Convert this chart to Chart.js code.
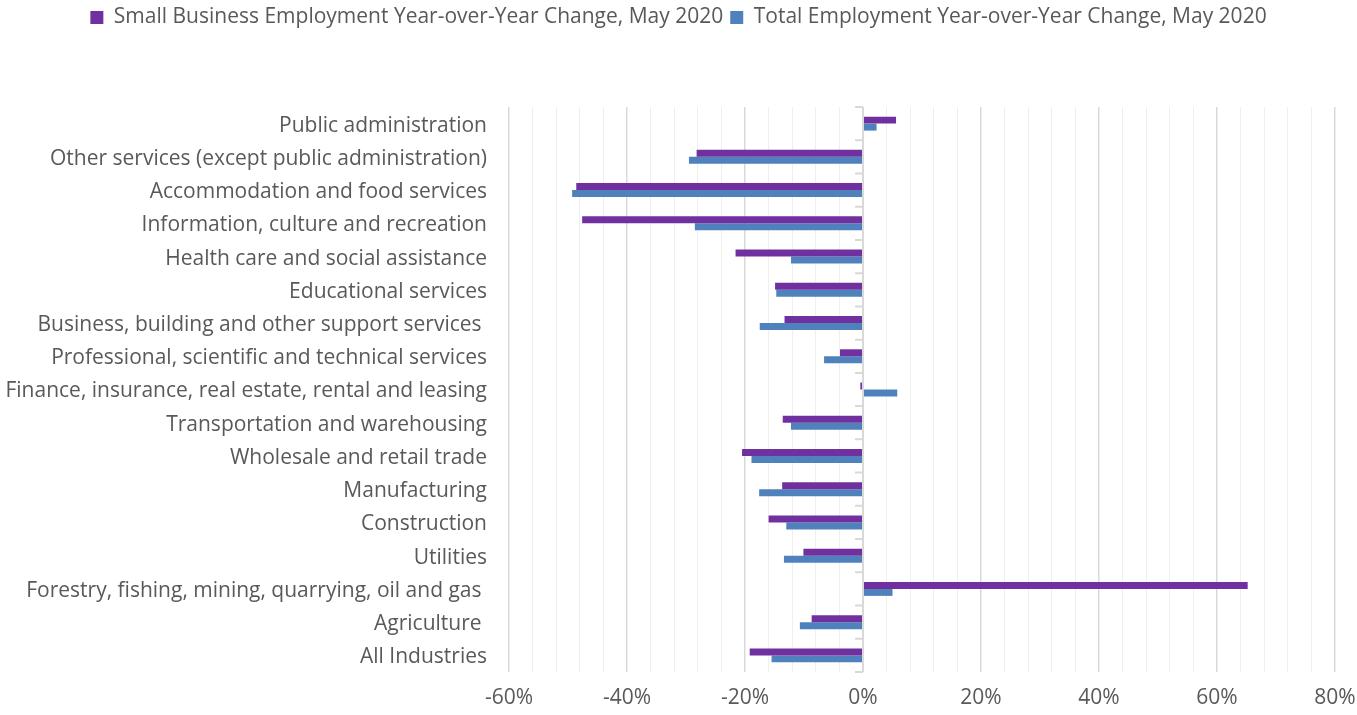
<!DOCTYPE html>
<html>
<head>
<meta charset="utf-8">
<script src="https://cdn.jsdelivr.net/npm/chart.js@4"></script>
<style>
  html, body { margin: 0; padding: 0; background: #ffffff; }
  #wrap { width: 1357px; height: 715px; position: relative; }
</style>
</head>
<body>
<div id="wrap"><canvas id="c"></canvas></div>
<script>
const categories = [
  "Public administration",
  "Other services (except public administration)",
  "Accommodation and food services",
  "Information, culture and recreation",
  "Health care and social assistance",
  "Educational services",
  "Business, building and other support services ",
  "Professional, scientific and technical services",
  "Finance, insurance, real estate, rental and leasing",
  "Transportation and warehousing",
  "Wholesale and retail trade",
  "Manufacturing",
  "Construction",
  "Utilities",
  "Forestry, fishing, mining, quarrying, oil and gas ",
  "Agriculture ",
  "All Industries"
];
const smallBusiness = [5.6, -28.2, -48.6, -47.6, -21.6, -14.9, -13.3, -3.9, -0.45, -13.6, -20.5, -13.7, -16.0, -10.1, 65.2, -8.7, -19.2];
const totalEmployment = [2.3, -29.5, -49.3, -28.5, -12.2, -14.7, -17.5, -6.6, 5.8, -12.2, -18.9, -17.6, -13.0, -13.4, 5.0, -10.7, -15.5];
const seriesNames = [
  "Small Business Employment Year-over-Year Change, May 2020",
  "Total Employment Year-over-Year Change, May 2020"
];
const xMin = -60, xMax = 80, xStep = 4, xLabelEvery = 20;

const FONT = "'Open Sans', sans-serif";
const TXT = "#595959";

const zeroTicks = {
  id: 'zeroTicks',
  afterDatasetsDraw(chart) {
    const ctx = chart.ctx, xs = chart.scales.x, ys = chart.scales.y;
    const x0 = xs.getPixelForValue(0);
    const n = categories.length;
    const bounds = [];
    for (let i = 0; i <= n; i++) {
      if (i === 0) bounds.push(ys.top);
      else if (i === n) bounds.push(ys.bottom);
      else bounds.push((ys.getPixelForTick(i - 1) + ys.getPixelForTick(i)) / 2);
    }
    ctx.save();
    ctx.strokeStyle = '#d9d9d9';
    ctx.lineWidth = 2;
    ctx.beginPath();
    ctx.moveTo(x0, ys.top); ctx.lineTo(x0, ys.bottom);
    bounds.forEach(b => { ctx.moveTo(x0 - 8, b); ctx.lineTo(x0, b); });
    ctx.stroke();
    ctx.restore();
  }
};

const legendHeight = {
  id: 'legendHeight',
  beforeInit(chart) {
    const orig = chart.legend.fit;
    chart.legend.fit = function () { orig.call(this); this.height = 107; };
  }
};

new Chart(document.getElementById('c'), {
  type: 'bar',
  data: {
    labels: categories,
    datasets: [
      { label: seriesNames[0], data: smallBusiness, backgroundColor: '#7030A0', borderWidth: 0 },
      { label: seriesNames[1], data: totalEmployment, backgroundColor: '#4F81BD', borderWidth: 0 }
    ]
  },
  options: {
    indexAxis: 'y',
    responsive: true,
    maintainAspectRatio: false,
    animation: false,
    layout: { padding: 0 },
    datasets: { bar: { categoryPercentage: 0.42, barPercentage: 1.0 } },
    plugins: {
      legend: {
        position: 'top',
        labels: {
          color: TXT,
          font: { family: FONT, size: 21 },
          boxWidth: 13, boxHeight: 13,
          padding: 7
        }
      },
      tooltip: { enabled: false }
    },
    scales: {
      x: {
        min: xMin, max: xMax,
        afterFit(s) { s.height = 43; s.paddingRight = 22; s.paddingLeft = 0; },
        ticks: {
          stepSize: xStep,
          autoSkip: false,
          maxRotation: 0,
          padding: 13,
          color: TXT,
          font: { family: FONT, size: 21 },
          callback: v => (v % xLabelEvery === 0 ? v + '%' : '')
        },
        grid: {
          drawTicks: false,
          color: c => (c.tick && c.tick.value % xLabelEvery === 0 ? '#d9d9d9' : '#efefef'),
          lineWidth: c => (c.tick && c.tick.value % xLabelEvery === 0 ? 1.5 : 1)
        },
        border: { display: false }
      },
      y: {
        afterFit(s) { s.width = 509; },
        ticks: {
          padding: 14,
          labelOffset: 2,
          color: TXT,
          font: { family: FONT, size: 21 },
          autoSkip: false
        },
        grid: { display: false },
        border: { display: false }
      }
    }
  },
  plugins: [zeroTicks, legendHeight]
});
</script>
</body>
</html>
